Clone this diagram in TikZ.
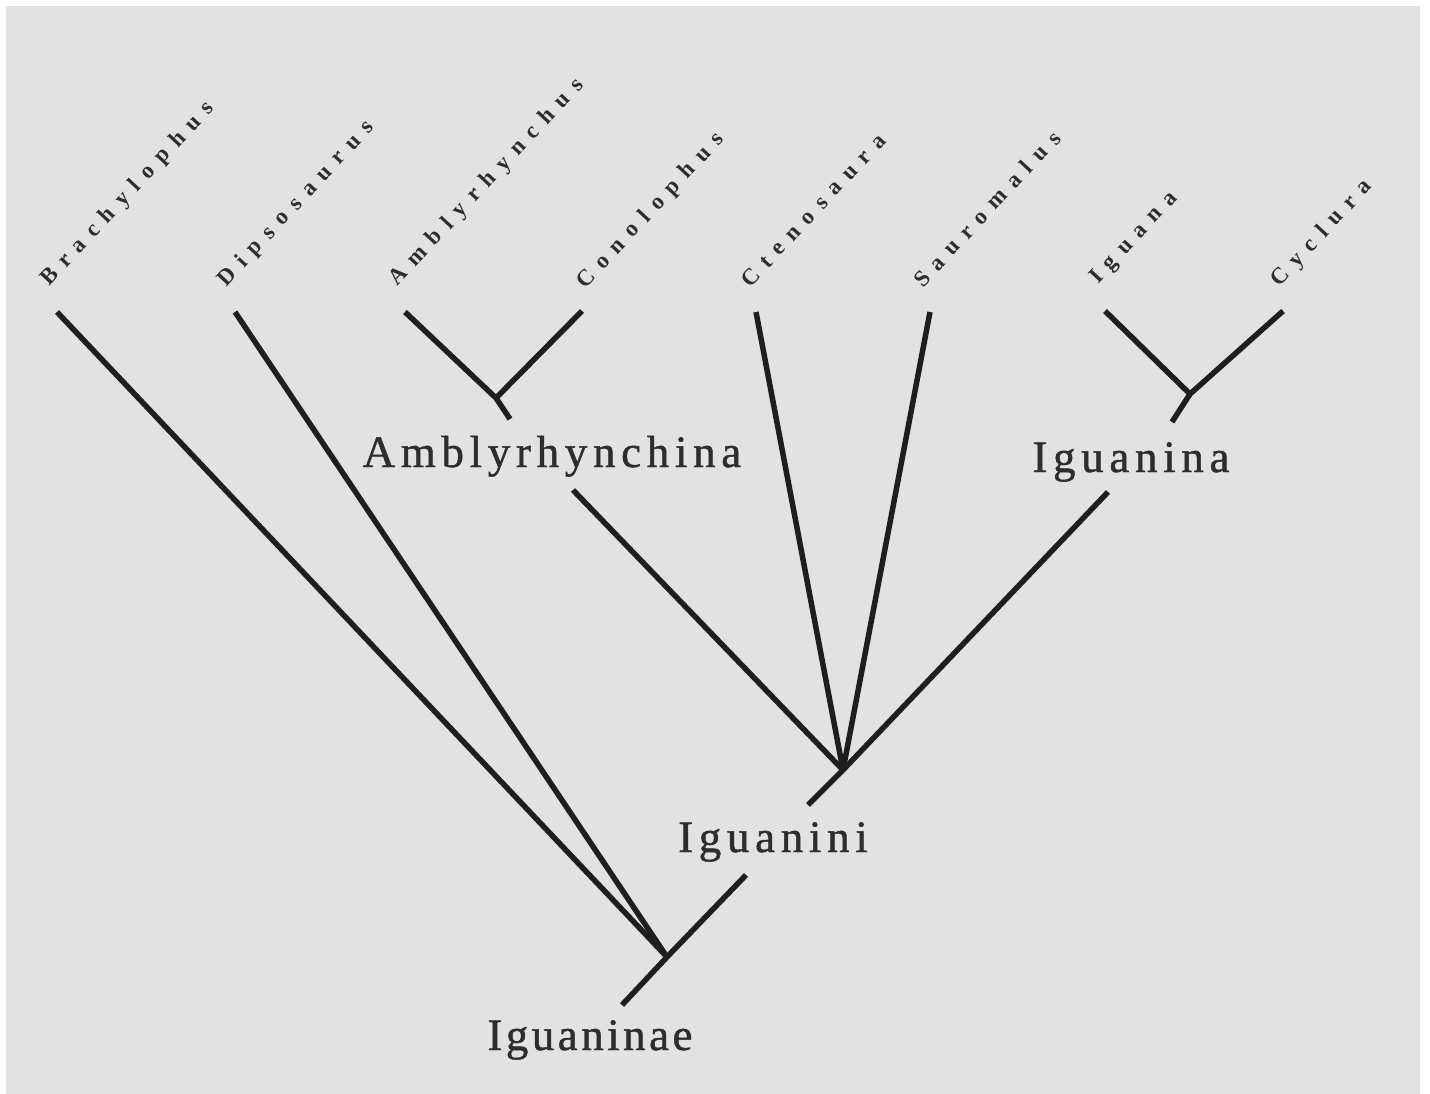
\documentclass[tikz,border=0pt]{standalone}
\usepackage{fontspec}
\setmainfont{Liberation Serif}
\newfontfamily\leaffont[LetterSpace=42]{Liberation Serif Bold}
\newfontfamily\cladefont[LetterSpace=12.6,FakeBold=1]{Liberation Serif}
\newfontfamily\cladefonttight[LetterSpace=7.7,FakeBold=1]{Liberation Serif}
\definecolor{paper}{RGB}{226,226,226}
\definecolor{ink}{RGB}{30,30,30}
\definecolor{txt}{RGB}{45,45,45}

\begin{document}
\begin{tikzpicture}[x=1pt,y=1pt,
  branch/.style={line width=5.5pt, draw=ink},
  taxon/.style={rotate=47, anchor=base west, inner sep=0pt, text=txt,
    font=\leaffont\fontsize{23}{27}\selectfont},
  clade/.style={anchor=base, inner sep=0pt, text=txt,
    font=\cladefont\fontsize{45}{54}\selectfont}]
\useasboundingbox (0,0) rectangle (1430,-1094);
\fill[white] (0,0) rectangle (1430,-1094);
\fill[paper] (6,-6) rectangle (1420,-1094);

% tips of the terminal branches
\coordinate (Bra) at (57,-312);
\coordinate (Dip) at (235,-312);
\coordinate (Amb) at (405,-312);
\coordinate (Con) at (582,-311);
\coordinate (Cte) at (756,-312);
\coordinate (Sau) at (930,-312);
\coordinate (Igu) at (1105,-311);
\coordinate (Cyc) at (1283,-311);

% internal nodes and stems
\coordinate (AmbJ) at (496,-398);
\coordinate (AmbStem) at (510,-419);
\coordinate (IgnJ) at (1190,-394);
\coordinate (IgnStem) at (1172,-422);
\coordinate (AmbLow) at (573,-490);
\coordinate (IgnLow) at (1108,-492);
\coordinate (Iini) at (843,-770);
\coordinate (IiniStem) at (808,-805);
\coordinate (IiniLow) at (746,-875);
\coordinate (Iae) at (667,-957);
\coordinate (IaeStem) at (622,-1005);

% taxon names
\node[taxon] (tBra) at (49,-287) {Brachylophus};
\node[taxon] (tDip) at (226,-288) {Dipsosaurus};
\node[taxon] (tAmb) at (397,-287) {Amblyrhynchus};
\node[taxon] (tCon) at (585,-290) {Conolophus};
\node[taxon] (tCte) at (750,-289) {Ctenosaura};
\node[taxon] (tSau) at (923,-289) {Sauromalus};
\node[taxon] (tIgu) at (1098,-285) {Iguana};
\node[taxon] (tCyc) at (1279,-288) {Cyclura};

% clade names
\node[clade] (cAmb) at (552,-467) {Amblyrhynchina};
\node[clade] (cIgn) at (1131,-472) {Iguanina};
\node[clade] (cIini) at (773,-852) {Iguanini};
\node[clade, font=\cladefonttight\fontsize{45}{54}\selectfont] (cIae) at (590,-1050) {Iguaninae};

% Amblyrhynchina
\draw[branch] (Amb) -- (AmbJ) -- (AmbStem);
\draw[branch] (Con) -- (AmbJ);
% Iguanina
\draw[branch] (Igu) -- (IgnJ);
\draw[branch] (Cyc) -- (IgnJ) -- (IgnStem);
% Iguanini
\draw[branch] (AmbLow) -- (Iini);
\draw[branch] (Cte) -- (Iini);
\draw[branch] (Sau) -- (Iini);
\draw[branch] (IgnLow) -- (Iini) -- (IiniStem);
% Iguaninae
\draw[branch] (Bra) -- (Iae);
\draw[branch] (Dip) -- (Iae);
\draw[branch] (IiniLow) -- (Iae) -- (IaeStem);
\end{tikzpicture}
\end{document}
